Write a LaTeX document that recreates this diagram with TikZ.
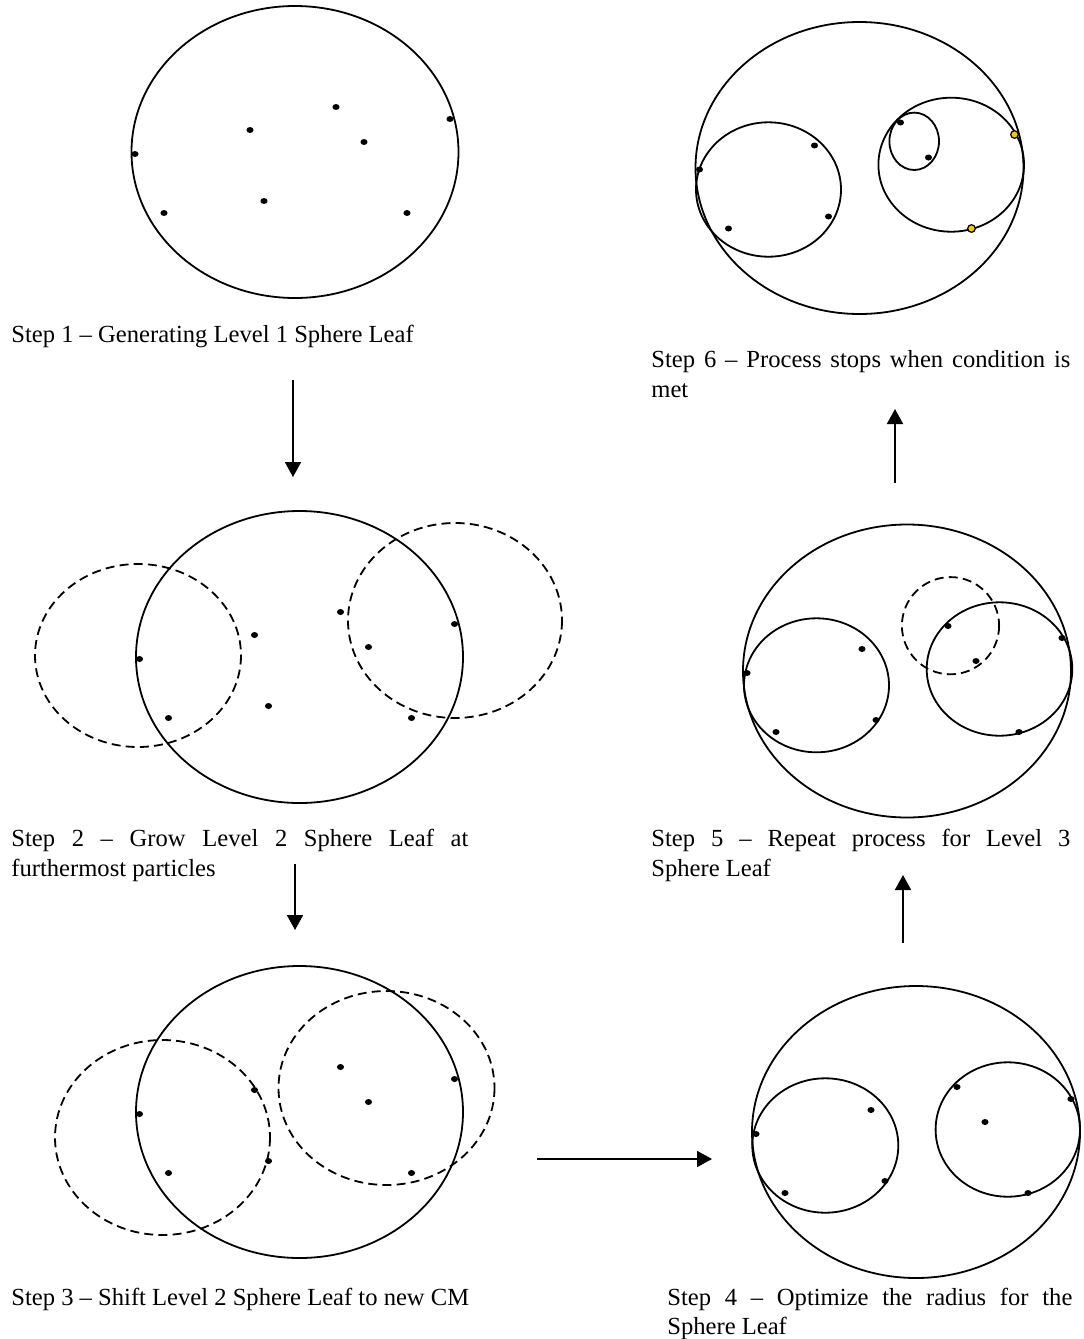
\documentclass[tikz,border=0pt]{standalone}
\usepackage{fontspec}
\setmainfont{Liberation Serif}
\usetikzlibrary{arrows.meta}
\definecolor{markgold}{HTML}{F5C518}

% particle cloud, given in the frame of the first panel and shifted per panel
\newcommand\cloud[2]{%
  \begin{scope}[shift={(#1,#2)}]
    \foreach \px/\py in {135/154,164/213,250/130,264/201,336/107,364/142,450/119,407/213}
      \fill[particle] (\px,\py) ellipse [x radius=3.6,y radius=3];
  \end{scope}}

\begin{document}
\begin{tikzpicture}[x=0.5pt,y=-0.5pt,
  leaf/.style={draw=black,line width=0.9pt},
  trial/.style={draw=black,line width=0.9pt,dash pattern=on 4.5pt off 2.6pt},
  particle/.style={fill=black},
  marked/.style={fill=markgold,draw=black,line width=0.6pt},
  flow/.style={draw=black,line width=0.9pt,-{Triangle[length=7.5pt,width=8pt]}},
  caption/.style={anchor=base west,inner sep=0pt,font=\fontsize{12.3}{15}\selectfont}]

\fill[white] (0,0) rectangle (1083,1339);
\useasboundingbox (0,0) rectangle (1083,1339);

% ---------- Step 1 ----------
\coordinate (s1) at (295,152);
\draw[leaf] (s1) ellipse [x radius=163.5,y radius=146];
\cloud{0}{0}
\node[caption] (cap1) at (11,342) {Step 1 – Generating Level 1 Sphere Leaf};

% ---------- Step 2 ----------
\coordinate (s2) at (299.5,657);
\draw[leaf] (s2) ellipse [x radius=163.5,y radius=146];
\draw[trial] (138,655.5) ellipse [x radius=103,y radius=91.5];
\draw[trial] (455,620.5) ellipse [x radius=107,y radius=97.5];
\cloud{4.5}{505}
\node[caption] (cap2a) at (11,846) {\makebox[228.5pt][s]{Step 2 – Grow Level 2 Sphere Leaf at}};
\node[caption] (cap2b) at (11,876) {furthermost particles};

% ---------- Step 3 ----------
\coordinate (s3) at (299.5,1112);
\draw[leaf] (s3) ellipse [x radius=163.5,y radius=146];
\draw[trial] (162.5,1137.5) ellipse [x radius=107.5,y radius=97.5];
\draw[trial] (386.5,1088) ellipse [x radius=108,y radius=97];
\cloud{4.5}{960}
\node[caption] (cap3) at (11,1305) {Step 3 – Shift Level 2 Sphere Leaf to new CM};

% ---------- Step 4 ----------
\coordinate (s4) at (916,1132);
\draw[leaf] (s4) ellipse [x radius=164,y radius=146];
\draw[leaf] (825.3,1145.5) ellipse [x radius=73,y radius=67.2];
\draw[leaf] (1007.8,1129.5) ellipse [x radius=72.2,y radius=67.2];
\cloud{621}{980}
\node[caption] (cap4a) at (667,1305) {\makebox[202.5pt][s]{Step 4 – Optimize the radius for the}};
\node[caption] (cap4b) at (667,1334) {Sphere Leaf};

% ---------- Step 5 ----------
\coordinate (s5) at (907,671);
\draw[leaf] (s5) ellipse [x radius=164,y radius=146.5];
\draw[leaf] (816.5,685.3) ellipse [x radius=72.5,y radius=67];
\draw[leaf] (999.5,669) ellipse [x radius=72.8,y radius=66.7];
\draw[trial] (950.5,625.7) circle [radius=48.6];
\cloud{612}{519}
\node[caption] (cap5a) at (651,846) {\makebox[209.5pt][s]{Step 5 – Repeat process for Level 3}};
\node[caption] (cap5b) at (651,876) {Sphere Leaf};

% ---------- Step 6 ----------
\coordinate (s6) at (859.5,168);
\draw[leaf] (s6) ellipse [x radius=164,y radius=146];
\draw[leaf] (768.5,189.5) ellipse [x radius=72.5,y radius=67.2];
\draw[leaf] (951.2,164.7) ellipse [x radius=72.8,y radius=67];
\draw[leaf] (914.2,141.3) ellipse [x radius=24.8,y radius=28.7];
\begin{scope}[shift={(564.5,15.5)}]
  \foreach \px/\py in {135/154,164/213,250/130,264/201,336/107,364/142}
    \fill[particle] (\px,\py) ellipse [x radius=3.6,y radius=3];
  \filldraw[marked] (450,119) circle [radius=3.8];
  \filldraw[marked] (407,213) circle [radius=3.8];
\end{scope}
\node[caption] (cap6a) at (651,367) {\makebox[209.5pt][s]{Step 6 – Process stops when condition is}};
\node[caption] (cap6b) at (651,397) {met};

% ---------- flow arrows ----------
\coordinate (a1s) at (293,380);  \coordinate (a1e) at (293,477);
\coordinate (a2s) at (295,864);  \coordinate (a2e) at (295,930);
\coordinate (a3s) at (537,1159); \coordinate (a3e) at (712,1159);
\coordinate (a4s) at (903,943);  \coordinate (a4e) at (903,875);
\coordinate (a5s) at (895,483);  \coordinate (a5e) at (895,409);
\draw[flow] (a1s) -- (a1e);
\draw[flow] (a2s) -- (a2e);
\draw[flow] (a3s) -- (a3e);
\draw[flow] (a4s) -- (a4e);
\draw[flow] (a5s) -- (a5e);
\end{tikzpicture}
\end{document}
